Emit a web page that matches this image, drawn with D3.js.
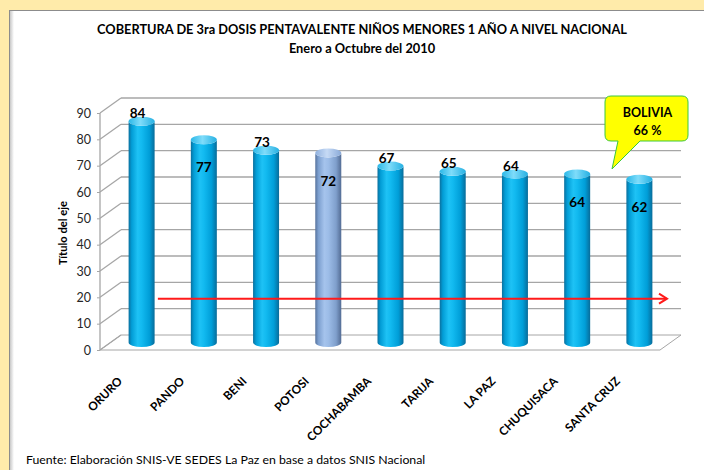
<!DOCTYPE html>
<html>
<head>
<meta charset="utf-8">
<script src="https://cdn.jsdelivr.net/npm/d3@7"></script>
<style>
  html, body { margin: 0; padding: 0; background: #FFEBAA; }
  svg { display: block; font-family: Lato, "Open Sans", sans-serif; }
</style>
</head>
<body>
<div id="main"></div>
<script>
// chart data
const departamentos = ["ORURO", "PANDO", "BENI", "POTOSI", "COCHABAMBA", "TARIJA", "LA PAZ", "CHUQUISACA", "SANTA CRUZ"];
const cobertura = [84, 77, 73, 72, 67, 65, 64, 64, 62];
const labelInside = [false, true, false, true, false, false, false, true, true];
const yTicks = [0, 10, 20, 30, 40, 50, 60, 70, 80, 90];
const nacional = 66;
const metaValor = 19.5;
const highlighted = "POTOSI";

const width = 704, height = 470;

const svg = d3.select("#main").append("svg")
  .attr("width", width)
  .attr("height", height);

const defs = svg.append("defs");

// cylinder gradients
function cylGrad(id, stops) {
  const g = defs.append("linearGradient").attr("id", id)
    .attr("x1", "0%").attr("x2", "100%").attr("y1", "0%").attr("y2", "0%");
  stops.forEach(s => g.append("stop").attr("offset", s[0]).attr("stop-color", s[1]));
}
cylGrad("cylBlue", [["0%", "#0b709e"], ["12%", "#029dd6"], ["35%", "#1ec2f5"], ["50%", "#12baf0"], ["80%", "#009ed8"], ["100%", "#086c9a"]]);
cylGrad("cylBlueTop", [["0%", "#2bb8e8"], ["45%", "#7fdcfa"], ["100%", "#26b0e2"]]);
cylGrad("cylGrey", [["0%", "#56729c"], ["12%", "#7c9fcf"], ["35%", "#a5c3ec"], ["50%", "#9dbde8"], ["80%", "#7f9fcc"], ["100%", "#536c94"]]);
cylGrad("cylGreyTop", [["0%", "#8fb0de"], ["45%", "#c6daf5"], ["100%", "#8aaad8"]]);

const shadowGrad = defs.append("linearGradient").attr("id", "panelShadow")
  .attr("x1", "0%").attr("x2", "100%");
shadowGrad.append("stop").attr("offset", "0%").attr("stop-color", "#c8c8c8");
shadowGrad.append("stop").attr("offset", "100%").attr("stop-color", "#ffffff");

// background panel
svg.append("rect").attr("x", 0).attr("y", 0).attr("width", width).attr("height", height).attr("fill", "#FFEBAA");
svg.append("rect").attr("x", 9).attr("y", 10).attr("width", width - 9).attr("height", height - 10).attr("fill", "#fff");
svg.append("rect").attr("x", 10).attr("y", 11).attr("width", 4).attr("height", height - 11).attr("fill", "url(#panelShadow)");
svg.append("line").attr("x1", 9).attr("x2", width).attr("y1", 10.5).attr("y2", 10.5).attr("stroke", "#8c8c8c");
svg.append("line").attr("x1", 9.5).attr("x2", 9.5).attr("y1", 10).attr("y2", height).attr("stroke", "#8c8c8c");

// titles
svg.append("text").attr("x", 362).attr("y", 34).attr("text-anchor", "middle")
  .attr("font-size", 12.8).attr("font-weight", "bold").attr("fill", "#000")
  .text("COBERTURA DE 3ra DOSIS PENTAVALENTE NIÑOS MENORES 1 AÑO A NIVEL NACIONAL");
svg.append("text").attr("x", 362).attr("y", 53).attr("text-anchor", "middle")
  .attr("font-size", 12.8).attr("font-weight", "bold").attr("fill", "#000")
  .text("Enero a Octubre del 2010");

// 3D geometry
const depthX = 21, depthY = -15;
const x = d3.scaleBand().domain(departamentos).range([100, 660]).padding(0);
const y = d3.scaleLinear().domain([0, 90]).range([350, 113]);

const grid = svg.append("g");
// floor
const x0 = x.range()[0], x1 = x.range()[1];
grid.append("path")
  .attr("d", `M${x0},${y(0)}L${x1},${y(0)}L${x1 + depthX},${y(0) + depthY}L${x0 + depthX},${y(0) + depthY}Z`)
  .attr("fill", "none").attr("stroke", "#a6a6a6");
// back wall lines + side wall diagonals
yTicks.forEach(t => {
  if (t > 0) {
    grid.append("line")
      .attr("x1", x0 + depthX).attr("x2", x1 + depthX)
      .attr("y1", y(t) + depthY).attr("y2", y(t) + depthY)
      .attr("stroke", "#a6a6a6").attr("stroke-width", 1.3);
  }
  grid.append("line")
    .attr("x1", x0).attr("x2", x0 + depthX)
    .attr("y1", y(t)).attr("y2", y(t) + depthY)
    .attr("stroke", "#a6a6a6").attr("stroke-width", 1.3);
});
// front vertical axis
grid.append("line").attr("x1", x0).attr("x2", x0).attr("y1", y(0)).attr("y2", y(90))
  .attr("stroke", "#a6a6a6").attr("stroke-width", 1.3);

const yAxis = svg.append("g")
  .attr("transform", `translate(${x0},0)`)
  .call(d3.axisLeft(y).tickValues(yTicks).tickSize(3).tickPadding(6));
yAxis.select(".domain").remove();
yAxis.selectAll(".tick line").attr("stroke", "#a6a6a6");
yAxis.selectAll(".tick text").attr("font-family", "Lato, sans-serif").attr("font-size", 12.5).attr("fill", "#262626");

svg.append("text")
  .attr("transform", `translate(67,${233}) rotate(-90)`)
  .attr("text-anchor", "middle").attr("font-size", 11.2).attr("font-weight", "bold")
  .text("Título del eje");

// bars as cylinders
const rx = 13, ry = 4.5;
const bars = svg.append("g");
departamentos.forEach((d, i) => {
  const cx = x(d) + x.bandwidth() / 2 + depthX / 2;
  const yb = y(0) + depthY / 2;
  const yt = y(cobertura[i]) + depthY / 2;
  const grey = d === highlighted;
  const l = cx - rx, r = cx + rx;
  bars.append("path")
    .attr("d", `M${l},${yt}L${l},${yb}A${rx},${ry} 0 0 0 ${r},${yb}L${r},${yt}A${rx},${ry} 0 0 1 ${l},${yt}Z`)
    .attr("fill", grey ? "url(#cylGrey)" : "url(#cylBlue)");
  bars.append("ellipse")
    .attr("cx", cx).attr("cy", yt).attr("rx", rx).attr("ry", ry)
    .attr("fill", grey ? "url(#cylGreyTop)" : "url(#cylBlueTop)");

  const inside = labelInside[i];
  bars.append("text")
    .attr("x", inside ? cx : cx - 4)
    .attr("y", inside ? yt + 28 : yt - 8)
    .attr("dy", "0.35em")
    .attr("text-anchor", "middle")
    .attr("font-size", 13.5).attr("font-weight", "bold").attr("fill", "#000")
    .text(cobertura[i]);
});

// category labels
svg.append("g").selectAll("text")
  .data(departamentos)
  .join("text")
  .attr("transform", d => `translate(${x(d) + x.bandwidth() / 2 - 11},${379}) rotate(-45)`)
  .attr("text-anchor", "end")
  .attr("dy", "0.35em")
  .attr("font-size", 11.8).attr("font-weight", "bold").attr("fill", "#000")
  .text(d => d);

// red reference arrow
const ay = y(metaValor);
const ax1 = x0 + x.bandwidth() * 0.93, ax2 = x1 + 7;
svg.append("line").attr("x1", ax1).attr("x2", ax2).attr("y1", ay).attr("y2", ay)
  .attr("stroke", "#ff1a1a").attr("stroke-width", 2);
svg.append("path")
  .attr("d", `M${ax2 - 8},${ay - 5}L${ax2},${ay}L${ax2 - 8},${ay + 5}`)
  .attr("fill", "none").attr("stroke", "#ff1a1a").attr("stroke-width", 2);

// callout BOLIVIA
const co = { x: 605, y: 96, w: 83, h: 45 };
svg.append("path")
  .attr("d", `M${co.x + 6},${co.y}H${co.x + co.w - 6}Q${co.x + co.w},${co.y} ${co.x + co.w},${co.y + 6}V${co.y + co.h - 6}Q${co.x + co.w},${co.y + co.h} ${co.x + co.w - 6},${co.y + co.h}H${co.x + 35}L${612},${169}L${co.x + 13},${co.y + co.h}H${co.x + 6}Q${co.x},${co.y + co.h} ${co.x},${co.y + co.h - 6}V${co.y + 6}Q${co.x},${co.y} ${co.x + 6},${co.y}Z`)
  .attr("fill", "#ffff00").attr("stroke", "#3cc83c").attr("stroke-width", 1);
svg.append("text").attr("x", co.x + co.w / 2 + 1).attr("y", co.y + 17).attr("dy", "0.35em")
  .attr("text-anchor", "middle").attr("font-size", 12.5).attr("font-weight", "bold").text("BOLIVIA");
svg.append("text").attr("x", co.x + co.w / 2 + 1).attr("y", co.y + 35).attr("dy", "0.35em")
  .attr("text-anchor", "middle").attr("font-size", 12.5).attr("font-weight", "bold").text(nacional + " %");

// source
svg.append("text").attr("x", 26).attr("y", 464)
  .attr("font-size", 12.3).attr("fill", "#000")
  .text("Fuente: Elaboración SNIS-VE SEDES La Paz en base a datos SNIS Nacional");
</script>
</body>
</html>
